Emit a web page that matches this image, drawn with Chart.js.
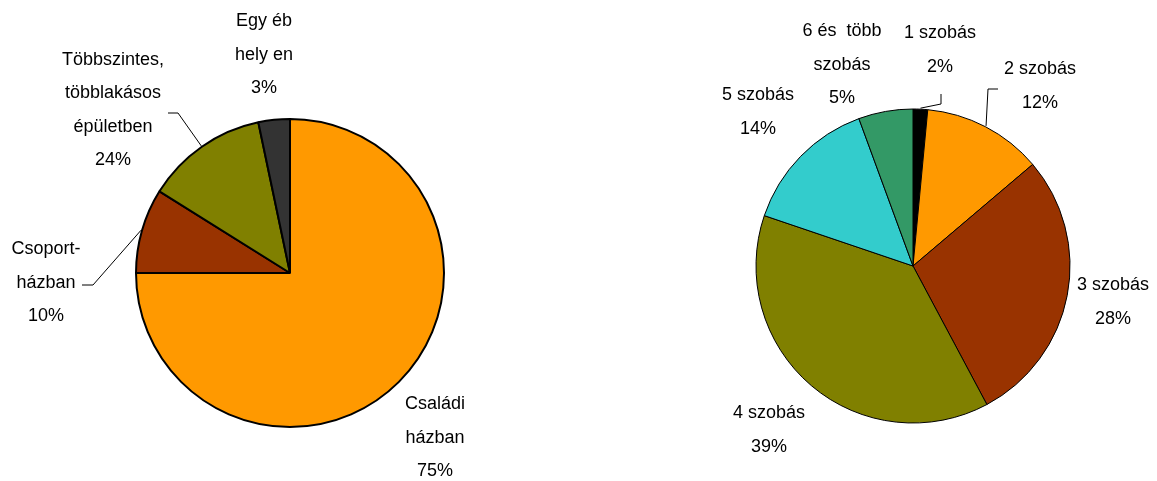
<!DOCTYPE html>
<html lang="hu">
<head>
<meta charset="UTF-8">
<title>Lakások</title>
<script src="https://cdn.jsdelivr.net/npm/chart.js"></script>
<style>
    body {
        margin: 0;
        background: #fff;
        font-family: "Liberation Sans", Arial, sans-serif;
    }
    .wrap {
        position: relative;
        width: 1157px;
        height: 481px;
    }
    .box {
        position: absolute;
        top: 0;
        height: 481px;
    }
    #leftBox { left: 0; width: 580px; }
    #rightBox { left: 578px; width: 579px; }
</style>
</head>
<body>
<div class="wrap">
    <div class="box" id="leftBox"><canvas id="housingChart"></canvas></div>
    <div class="box" id="rightBox"><canvas id="roomsChart"></canvas></div>
</div>

<script>
// Left pie: type of building
const housingNames = [['Családi', 'házban'], ['Csoport-', 'házban'], ['Többszintes,', 'többlakásos', 'épületben'], ['Egy éb', 'hely en']];
const housingValues = [75, 8.9, 12.8, 3.3];
const housingPct = ['75%', '10%', '24%', '3%'];
const housingColors = ['#FF9900', '#993300', '#808000', '#333333'];

// Right pie: number of rooms
const roomNames = [['1 szobás'], ['2 szobás'], ['3 szobás'], ['4 szobás'], ['5 szobás'], ['6 és  több', 'szobás']];
const roomValues = [1.5, 12.3, 28.4, 38.0, 14.2, 5.6];
const roomPct = ['2%', '12%', '28%', '39%', '14%', '5%'];
const roomColors = ['#000000', '#FF9900', '#993300', '#808000', '#33CCCC', '#339966'];

// draws the label blocks and leader lines next to the slices
const sliceLabels = {
    id: 'sliceLabels',
    afterDraw(chart, args, opts) {
        const ctx = chart.ctx;
        const arcs = chart.getDatasetMeta(0).data;
        const cx = arcs[0].x, cy = arcs[0].y;
        const lh = 33.5;
        ctx.save();
        ctx.font = '18px "Liberation Sans", Arial, sans-serif';
        ctx.fillStyle = '#000';
        ctx.textAlign = 'center';
        ctx.textBaseline = 'middle';
        opts.names.forEach((name, i) => {
            const lines = name.concat([opts.pct[i]]);
            const off = opts.offsets[i];
            lines.forEach((t, k) => {
                ctx.fillText(t, cx + off[0], cy + off[1] + (k - (lines.length - 1) / 2) * lh);
            });
        });
        ctx.strokeStyle = '#000';
        ctx.lineWidth = 1;
        opts.leaders.forEach(l => {
            const a = arcs[l.index];
            const mid = (a.startAngle + a.endAngle) / 2;
            const r = a.outerRadius + 1;
            ctx.beginPath();
            ctx.moveTo(cx + l.start[0], cy + l.start[1]);
            ctx.lineTo(cx + l.elbow[0], cy + l.elbow[1]);
            ctx.lineTo(cx + Math.cos(mid) * r, cy + Math.sin(mid) * r);
            ctx.stroke();
        });
        ctx.restore();
    }
};

new Chart(document.getElementById('housingChart'), {
    type: 'pie',
    data: {
        labels: housingNames.map(n => n.join(' ')),
        datasets: [{
            data: housingValues,
            backgroundColor: housingColors,
            borderColor: '#000',
            borderWidth: 2
        }]
    },
    options: {
        responsive: true,
        maintainAspectRatio: false,
        animation: false,
        events: [],
        layout: { padding: { top: 118, bottom: 53, left: 135, right: 135 } },
        plugins: {
            legend: { display: false },
            tooltip: { enabled: false },
            sliceLabels: {
                names: housingNames,
                pct: housingPct,
                offsets: [[145, 165], [-244, 10], [-177, -163], [-26, -218]],
                leaders: [
                    { index: 2, start: [-122, -160], elbow: [-112, -160] },
                    { index: 1, start: [-208, 12], elbow: [-197, 12] }
                ]
            }
        }
    },
    plugins: [sliceLabels]
});

new Chart(document.getElementById('roomsChart'), {
    type: 'pie',
    data: {
        labels: roomNames.map(n => n.join(' ')),
        datasets: [{
            data: roomValues,
            backgroundColor: roomColors,
            borderColor: '#000',
            borderWidth: 1
        }]
    },
    options: {
        responsive: true,
        maintainAspectRatio: false,
        animation: false,
        events: [],
        layout: { padding: { top: 108.5, bottom: 57.5, left: 177.5, right: 86.5 } },
        plugins: {
            legend: { display: false },
            tooltip: { enabled: false },
            sliceLabels: {
                names: roomNames,
                pct: roomPct,
                offsets: [[27, -216], [127, -180], [200, 36], [-144, 164], [-155, -154], [-71, -201]],
                leaders: [
                    { index: 0, start: [28, -172], elbow: [28, -162] },
                    { index: 1, start: [85, -177], elbow: [75, -177] }
                ]
            }
        }
    },
    plugins: [sliceLabels]
});
</script>
</body>
</html>
